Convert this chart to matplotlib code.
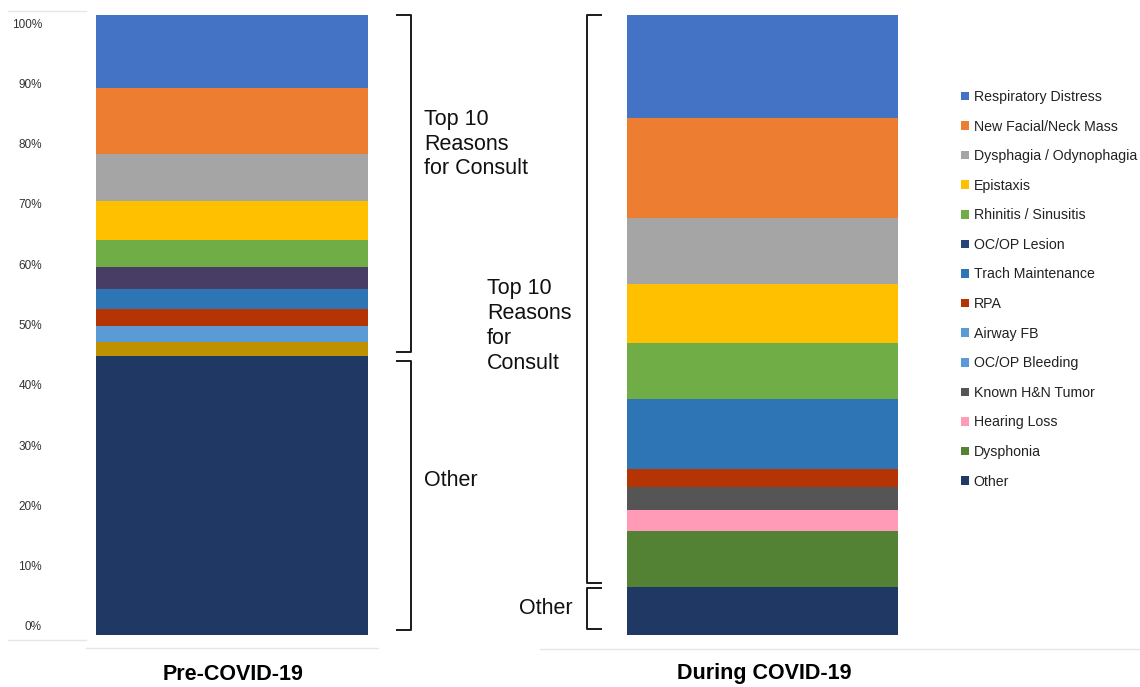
import matplotlib.pyplot as plt
import matplotlib.transforms as mtransforms
from matplotlib.lines import Line2D
import numpy as np

plt.rcParams["font.family"] = ["Liberation Sans", "DejaVu Sans"]

# Consult reasons, listed top of stack to bottom (legend order)
reasons = [
    "Respiratory Distress",
    "New Facial/Neck Mass",
    "Dysphagia / Odynophagia",
    "Epistaxis",
    "Rhinitis / Sinusitis",
    "OC/OP Lesion",
    "Trach Maintenance",
    "RPA",
    "Airway FB",
    "OC/OP Bleeding",
    "Known H&N Tumor",
    "Hearing Loss",
    "Dysphonia",
    "Other",
]

# share of consults (%)
pre_covid = [11.8, 10.7, 7.5, 6.4, 4.2, 3.6, 3.3, 2.7, 2.5, 2.4, 0.0, 0.0, 0.0, 44.9]
during_covid = [16.7, 16.0, 10.7, 9.5, 9.0, 0.0, 11.3, 3.0, 0.0, 0.0, 3.6, 3.5, 9.0, 7.7]

colors_during = [
    "#4472C4", "#ED7D31", "#A5A5A5", "#FFC000", "#70AD47", "#264478",
    "#2E75B6", "#B43503", "#5B9BD5", "#5B9BD5", "#555555", "#FF9BB7",
    "#548235", "#203864",
]
# the pre-COVID workbook used its own shades for two of the series
colors_pre = list(colors_during)
colors_pre[reasons.index("OC/OP Lesion")] = "#483D65"
colors_pre[reasons.index("OC/OP Bleeding")] = "#BF9000"

yticks = np.arange(0, 101, 10)

W, H = 1140, 687
fig = plt.figure(figsize=(W / 100, H / 100), dpi=100)


def fx(px):
    return px / W


def fy(py):
    return 1 - py / H


def stacked(ax, values, colors):
    handles = []
    bottom = 0.0
    # stack from the bottom of the list upward
    for name, v, c in reversed(list(zip(reasons, values, colors))):
        h = ax.bar(0, v, bottom=bottom, width=1.0, color=c, linewidth=0, label=name)
        handles.append(h)
        bottom += v
    ax.set_xlim(-0.5, 0.5)
    ax.set_ylim(0, 100)
    ax.set_xticks([])
    ax.set_yticks([])
    for s in ax.spines.values():
        s.set_visible(False)
    return handles[::-1]


def bracket(ax, x_line, x_tip, lo, hi):
    tr = mtransforms.blended_transform_factory(fig.transFigure, ax.transData)
    ln = Line2D([fx(x_tip), fx(x_line), fx(x_line), fx(x_tip)], [hi, hi, lo, lo],
                transform=tr, color="#1a1a1a", linewidth=1.4,
                solid_joinstyle="round", clip_on=False)
    fig.add_artist(ln)


bar_top, bar_bot = 14.7, 635.0
ax1 = fig.add_axes([fx(96), fy(bar_bot), fx(368) - fx(96), (bar_bot - bar_top) / H])
ax2 = fig.add_axes([fx(627), fy(bar_bot), fx(898) - fx(627), (bar_bot - bar_top) / H])

stacked(ax1, pre_covid, colors_pre)
handles = stacked(ax2, during_covid, colors_during)

# percentage scale sits in its own slightly shorter box, left of the bar
scale_top, scale_bot = 23.0, 626.0
ax_scale = fig.add_axes([fx(42), fy(scale_bot), 0.001, (scale_bot - scale_top) / H])
ax_scale.set_ylim(0, 100)
ax_scale.set_xticks([])
ax_scale.set_yticks(yticks)
ax_scale.set_yticklabels([f"{t}%" for t in yticks])
ax_scale.tick_params(axis="y", length=0, pad=0, labelsize=8.5, labelcolor="#333333")
ax_scale.patch.set_visible(False)
for s in ax_scale.spines.values():
    s.set_visible(False)

# group brackets
gap = 0.7
other_pre = pre_covid[-1]
other_dur = during_covid[-1]
bracket(ax1, 411, 397, other_pre + gap, 100)
bracket(ax1, 411, 397, 0.8, other_pre - gap)
bracket(ax2, 587, 601, other_dur + gap, 100)
bracket(ax2, 587, 601, 1.0, other_dur - 0.2)

txt = dict(fontsize=15.5, color="#111111", linespacing=1.2)
fig.text(fx(424), fy(144), "Top 10\nReasons\nfor Consult", ha="left", va="center", **txt)
fig.text(fx(424), fy(481), "Other", ha="left", va="center", **txt)
fig.text(fx(487), fy(326), "Top 10\nReasons\nfor\nConsult", ha="left", va="center",
         fontsize=15.5, color="#111111", linespacing=1.25)
fig.text(fx(573), fy(609), "Other", ha="right", va="center", **txt)

fig.text(fx(233), fy(674), "Pre-COVID-19", ha="center", va="center",
         fontsize=15.5, fontweight="bold")
fig.text(fx(764), fy(674), "During COVID-19", ha="center", va="center",
         fontsize=15.5, fontweight="bold")

# faint chart-frame rules
for x0, x1, y in [(8, 86, 11), (8, 86, 640), (86, 378, 648), (540, 1140, 649)]:
    fig.add_artist(Line2D([fx(x0), fx(x1)], [fy(y), fy(y)], color="#e6e6e6",
                          linewidth=1.0, transform=fig.transFigure))

fig.legend(handles, reasons, loc="upper left", bbox_to_anchor=(fx(961), fy(90)),
           frameon=False, fontsize=10.2, handlelength=0.55, handleheight=0.55,
           handletextpad=0.35, labelspacing=1.1, borderpad=0, borderaxespad=0,
           labelcolor="#222222")

fig.savefig("out.png", dpi=100)
